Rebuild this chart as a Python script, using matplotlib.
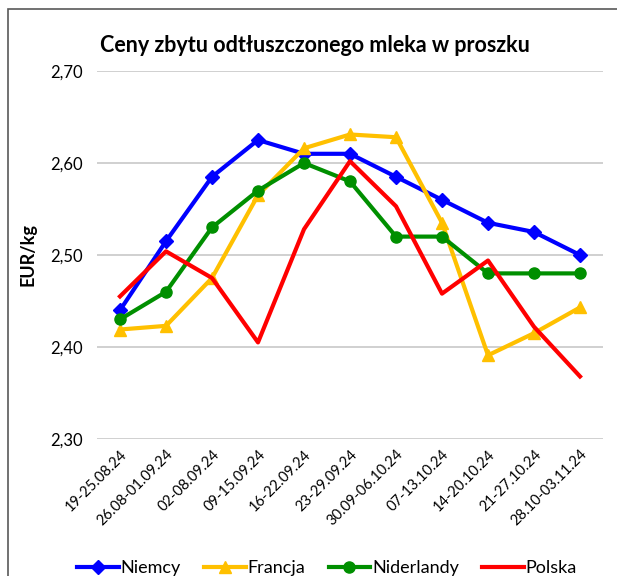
import matplotlib.pyplot as plt
from matplotlib.patches import Rectangle

plt.rcParams['font.family'] = ['Lato', 'DejaVu Sans']

weeks = ['19-25.08.24', '26.08-01.09.24', '02-08.09.24', '09-15.09.24',
         '16-22.09.24', '23-29.09.24', '30.09-06.10.24', '07-13.10.24',
         '14-20.10.24', '21-27.10.24', '28.10-03.11.24']

niemcy = [2.44, 2.515, 2.585, 2.625, 2.61, 2.61, 2.585, 2.56, 2.535, 2.525, 2.50]
francja = [2.419, 2.423, 2.475, 2.565, 2.616, 2.631, 2.628, 2.535, 2.391, 2.415, 2.443]
niderlandy = [2.43, 2.46, 2.53, 2.57, 2.60, 2.58, 2.52, 2.52, 2.48, 2.48, 2.48]
polska = [2.455, 2.504, 2.475, 2.405, 2.528, 2.602, 2.553, 2.458, 2.494, 2.422, 2.368]

yticks = [2.30, 2.40, 2.50, 2.60, 2.70]

W, H = 617, 576
fig = plt.figure(figsize=(W / 100, H / 100), dpi=100)
ax = fig.add_axes([97 / W, 1 - 439 / H, 506 / W, 368 / H])

# chart frame (cropped on right and bottom)
fig.patches.append(Rectangle((8 / W, -0.1), 1.2, (1 - 9 / H) + 0.1,
                             transform=fig.transFigure, fill=False,
                             edgecolor='#595959', linewidth=1.2))

x = list(range(len(weeks)))
ax.plot(x, niemcy, color='#0000FF', lw=3, marker='D', ms=7, label='Niemcy')
ax.plot(x, francja, color='#FFC000', lw=3, marker='^', ms=8, label='Francja')
ax.plot(x, niderlandy, color='#008F00', lw=3, marker='o', ms=8, label='Niderlandy')
ax.plot(x, polska, color='#FF0000', lw=3, label='Polska')

ax.set_xlim(-0.5, len(weeks) - 0.5)
ax.set_ylim(2.30, 2.70)
ax.set_yticks(yticks)
ax.set_yticklabels([f'{v:.2f}'.replace('.', ',') for v in yticks], fontsize=12)
ax.set_xticks(x)
ax.set_xticklabels(weeks, rotation=45, ha='right', rotation_mode='anchor', fontsize=10.5)
ax.tick_params(length=0, pad=10)
ax.tick_params(axis='x', pad=6)
ax.grid(axis='y', color='#C8C8C8', lw=1.2)
ax.set_axisbelow(True)
for s in ax.spines.values():
    s.set_visible(False)

ax.set_ylabel('EUR/kg', fontsize=13, fontweight='bold', labelpad=10)
fig.text(100 / W, 1 - 45 / H, 'Ceny zbytu odtłuszczonego mleka w proszku',
         fontsize=15.5, fontweight='bold', va='center', ha='left')

fig.legend(loc='center', bbox_to_anchor=(0.53, 1 - 568 / H), ncol=4, frameon=False,
           fontsize=13, handlelength=2.3, columnspacing=1.3, handletextpad=0.1)

fig.savefig('out.png', dpi=100)
